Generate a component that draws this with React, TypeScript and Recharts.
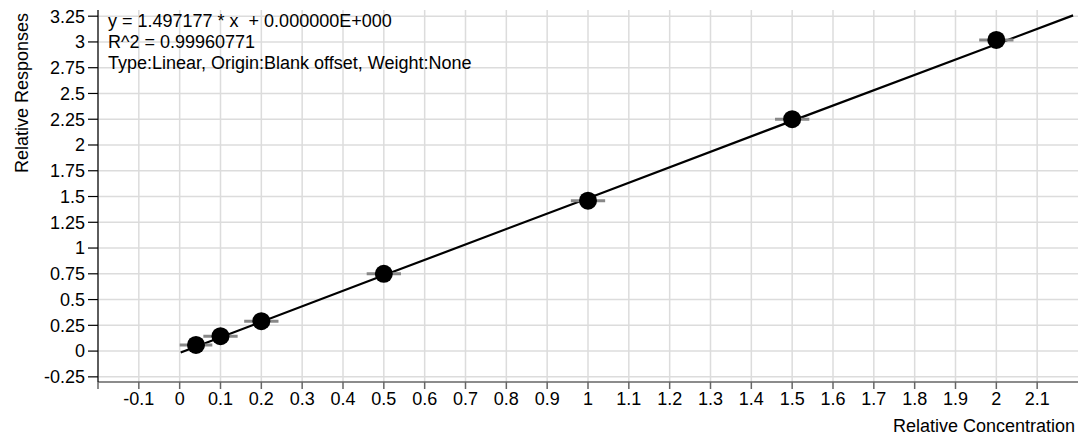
import React from 'react';
import { ComposedChart, XAxis, YAxis, CartesianGrid, Line, Scatter, ErrorBar } from 'recharts';

// Calibration points
const concentrations = [0.04, 0.1, 0.2, 0.5, 1.0, 1.5, 2.0];
const responses = [0.06, 0.145, 0.29, 0.75, 1.46, 2.25, 3.02];
const barHalfWidths = [0.04, 0.042, 0.042, 0.042, 0.042, 0.042, 0.042];

// Fitted curve
const fitX = [0.0025, 0.5, 1.0, 1.5, 2.188];
const fitY = [-0.013, 0.735, 1.484, 2.234, 3.258];

const xTicks = [-0.2, -0.1, 0, 0.1, 0.2, 0.3, 0.4, 0.5, 0.6, 0.7, 0.8, 0.9, 1, 1.1, 1.2, 1.3, 1.4, 1.5, 1.6, 1.7, 1.8, 1.9, 2, 2.1];
const yTicks = [-0.25, 0, 0.25, 0.5, 0.75, 1, 1.25, 1.5, 1.75, 2, 2.25, 2.5, 2.75, 3, 3.25];

const equationLines = [
  'y = 1.497177 * x  + 0.000000E+000',
  'R^2 = 0.99960771',
  'Type:Linear, Origin:Blank offset, Weight:None',
];
const xAxisTitle = 'Relative Concentration';
const yAxisTitle = 'Relative Responses';

const pointData = concentrations.map((x, i) => ({ x, y: responses[i], xErr: barHalfWidths[i] }));
const fitData = fitX.map((x, i) => ({ x, y: fitY[i] }));

const FONT = '"Liberation Sans", Arial, sans-serif';
const FS = 18;

const fmt = (v: number) => String(Number(v.toFixed(2)));

const NoShape = () => <g />;

export default function App() {
  return (
    <div style={{ position: 'relative', width: 1086, height: 441, margin: -8, background: '#fff', fontFamily: FONT }}>
      <ComposedChart width={1086} height={441} margin={{ top: 10, right: 8, bottom: 0, left: 0 }}>
        <CartesianGrid stroke="#dcdcdc" strokeWidth={1.5} verticalValues={xTicks} horizontalValues={yTicks} />
        <XAxis
          type="number"
          dataKey="x"
          domain={[-0.2, 2.2]}
          ticks={xTicks}
          allowDataOverflow
          height={59}
          tickFormatter={(v: number) => (v <= -0.2 ? '' : fmt(v))}
          tick={{ fill: '#000', fontSize: FS, fontFamily: FONT }}
          tickSize={7}
          tickMargin={3}
          stroke="#666"
          strokeWidth={1.5}
          interval={0}
        />
        <YAxis
          type="number"
          dataKey="y"
          domain={[-0.3, 3.31]}
          ticks={yTicks}
          allowDataOverflow
          width={98}
          tickFormatter={fmt}
          tick={{ fill: '#000', fontSize: FS, fontFamily: FONT }}
          tickSize={10}
          tickMargin={3}
          stroke="#000"
          strokeWidth={1.2}
          interval={0}
        />
        <Line data={fitData} dataKey="y" type="linear" stroke="#000" strokeWidth={2.2} dot={false} isAnimationActive={false} />
        <Scatter data={pointData} dataKey="y" fill="#000" isAnimationActive={false}
          shape={(p: any) => <circle cx={p.cx} cy={p.cy} r={9} fill="#000" />} />
        <Scatter data={pointData} dataKey="y" isAnimationActive={false} shape={NoShape}>
          <ErrorBar dataKey="xErr" direction="x" width={0} stroke="#888" strokeWidth={3} isAnimationActive={false} />
        </Scatter>
      </ComposedChart>
      <svg width={1086} height={441} style={{ position: 'absolute', left: 0, top: 0, pointerEvents: 'none' }}>
        <line x1={7.5} y1={0} x2={7.5} y2={440} stroke="#000" strokeWidth={1} />
        {equationLines.map((t, i) => (
          <text key={i} x={108} y={26.5 + i * 21} fontSize={FS} fontFamily={FONT} fill="#000" style={{ whiteSpace: 'pre' }}>{t}</text>
        ))}
        <text x={1075} y={432} fontSize={FS} fontFamily={FONT} fill="#000" textAnchor="end">{xAxisTitle}</text>
        <text transform="translate(27.5,93) rotate(-90)" fontSize={FS} fontFamily={FONT} fill="#000" textAnchor="middle">{yAxisTitle}</text>
      </svg>
    </div>
  );
}
